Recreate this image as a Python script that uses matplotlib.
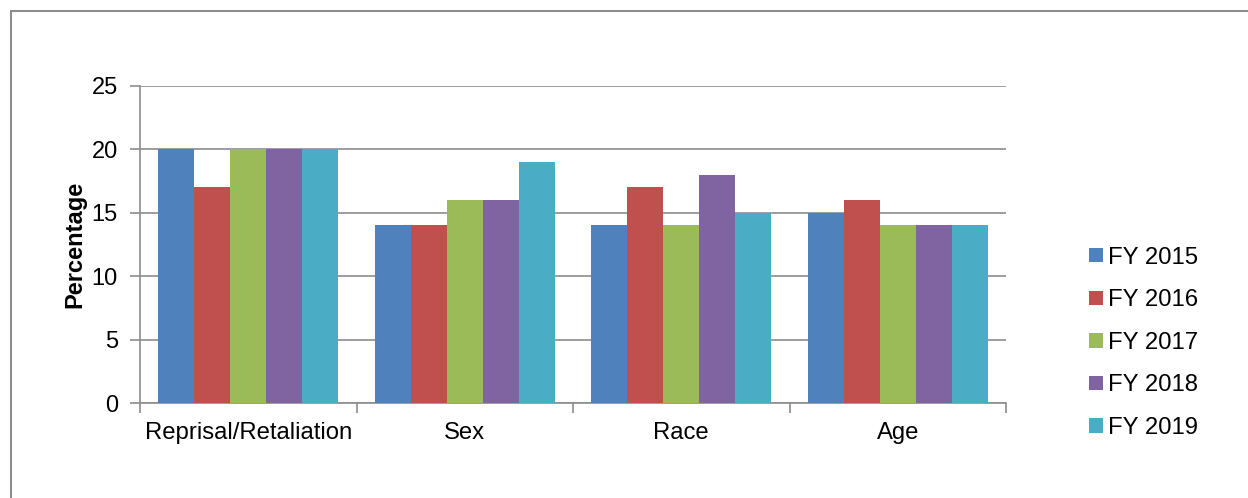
import numpy as np
import matplotlib.pyplot as plt
from matplotlib.patches import Rectangle

plt.rcParams['font.family'] = ['Liberation Sans', 'DejaVu Sans']

# categories and values (percentage)
categories = ['Reprisal/Retaliation', 'Sex', 'Race', 'Age']
series_names = ['FY 2015', 'FY 2016', 'FY 2017', 'FY 2018', 'FY 2019']
fy2015 = [20, 14, 14, 15]
fy2016 = [17, 14, 17, 16]
fy2017 = [20, 16, 14, 14]
fy2018 = [20, 16, 18, 14]
fy2019 = [20, 19, 15, 14]
series = [fy2015, fy2016, fy2017, fy2018, fy2019]
colors = ['#4F81BD', '#C0504D', '#9BBB59', '#8064A2', '#4BACC6']

fig = plt.figure(figsize=(12.48, 4.98), dpi=100)
# outer frame
fig.patches.append(Rectangle((11 / 1248, -0.1), 1.2, (498 - 11) / 498 + 0.1,
                             transform=fig.transFigure, fill=False,
                             edgecolor='#8C8C8C', linewidth=1.5))

ax = fig.add_axes([140 / 1248, 95 / 498, 866 / 1248, 317 / 498])

x = np.arange(len(categories))
w = 1 / 6
for i, (vals, name, c) in enumerate(zip(series, series_names, colors)):
    ax.bar(x + (i - 2) * w, vals, width=w, color=c, label=name, zorder=3)

ax.set_xlim(-0.5, len(categories) - 0.5)
ax.set_ylim(0, 25)
ax.set_yticks(np.arange(0, 26, 5))
ax.yaxis.grid(True, color='#8C8C8C', linewidth=1.2, zorder=0)

ax.set_xticks(np.arange(-0.5, len(categories), 1))
ax.set_xticklabels([])
ax.set_xticks(x, minor=True)
ax.set_xticklabels(categories, minor=True)
ax.tick_params(axis='x', which='minor', length=0, pad=14, labelsize=17.2)
ax.tick_params(axis='x', which='major', length=7, width=1.2, color='#8C8C8C')
ax.tick_params(axis='y', length=7, width=1.2, color='#8C8C8C', labelsize=17, pad=9)

for s in ['top', 'right']:
    ax.spines[s].set_visible(False)
for s in ['left', 'bottom']:
    ax.spines[s].set_color('#8C8C8C')
    ax.spines[s].set_linewidth(1.2)

ax.set_ylabel('Percentage', fontsize=17, fontweight='bold', labelpad=4)

ax.legend(loc='center left', bbox_to_anchor=(1.0715, 0.19), frameon=False,
          fontsize=17.2, handlelength=0.55, handleheight=0.55, handletextpad=0.22,
          labelspacing=0.86)

plt.savefig('out.png', dpi=100)
